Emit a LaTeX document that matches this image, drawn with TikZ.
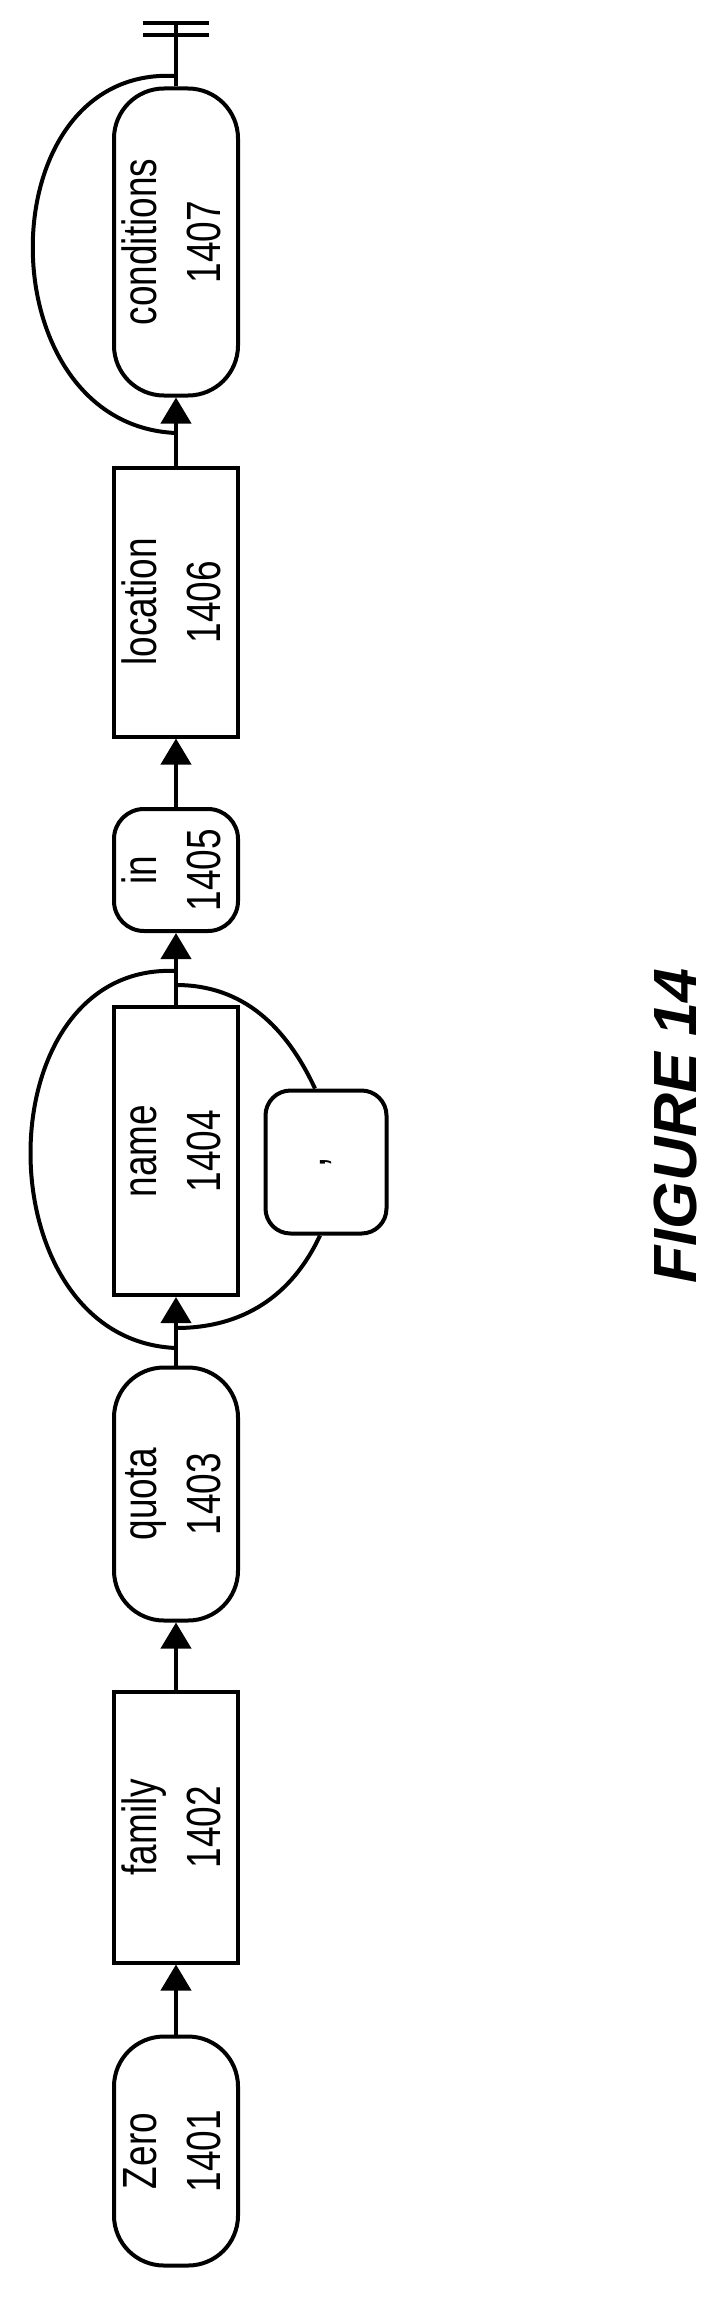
\documentclass[tikz,border=0pt]{standalone}
\usepackage{fontspec}
\setmainfont{Liberation Sans}
\newfontfamily\narrowfont[FakeStretch=0.77]{Liberation Sans}
\usetikzlibrary{arrows.meta,positioning}

\tikzset{
  block/.style={draw, line width=4pt, rectangle, minimum width=121pt, inner sep=0pt,
                font=\narrowfont\fontsize{48}{60}\selectfont, align=center},
  term/.style={block, rounded corners=50pt},
  flow/.style={line width=4pt, -{Triangle[width=30pt,length=26pt]}},
  loop/.style={line width=4pt},
}
\newcommand{\vtext}[2]{\rotatebox{90}{\begin{tabular}{@{}c@{}}#1\\[4pt]#2\end{tabular}}}

\begin{document}
\begin{tikzpicture}[x=1pt,y=1pt]
          \useasboundingbox (0,0) rectangle (711,-2312);
          \node[term, minimum height=229pt]  (zero)  at (176,-2151) {\vtext{Zero}{1401}};
          \node[block, minimum height=271pt] (family) at (176,-1827) {\vtext{family}{1402}};
          \node[term, minimum height=253pt]  (quota) at (176,-1494) {\vtext{quota}{1403}};
          \node[block, minimum height=288pt] (name)  at (176,-1151) {\vtext{name}{1404}};
          \node[term, rounded corners=30pt, minimum height=122pt] (in) at (176,-870) {\vtext{in}{1405}};
          \node[block, minimum height=269pt] (location) at (176,-602) {\vtext{location}{1406}};
          \node[term, minimum height=307pt]  (conditions) at (176,-242) {\vtext{conditions}{1407}};
          \node[term, rounded corners=25pt, minimum height=143pt] (comma) at (326,-1162) {\rotatebox{90}{,}};
          \node[font=\bfseries\itshape\fontsize{61}{61}\selectfont, rotate=90] (fig) at (675,-1126) {FIGURE 14};

          \coordinate (end) at (176,-23);

          \draw[flow] (zero) -- (family);
          \draw[flow] (family) -- (quota);
          \draw[flow] (quota) -- (name);
          \draw[flow] (name) -- (in);
          \draw[flow] (in) -- (location);
          \draw[flow] (location) -- (conditions);
          \draw[loop] (conditions) -- (end);
          \draw[loop] ([xshift=-33pt]end) -- ([xshift=33pt]end)
                      ([xshift=-33pt,yshift=-12pt]end) -- ([xshift=33pt,yshift=-12pt]end);

          % loops
          \draw[loop] (176,-433) .. controls (-15,-425) and (-15,-65) .. (176,-76);
          \draw[loop] (176,-1348) .. controls (-18,-1340) and (-18,-962) .. (176,-971);
          \draw[loop] (176,-985) to[out=0,in=115] ([xshift=-11pt]comma.north);
          \draw[loop] ([xshift=-6pt]comma.south) to[out=-115,in=0] (176,-1328);
        \end{tikzpicture}
\end{document}
